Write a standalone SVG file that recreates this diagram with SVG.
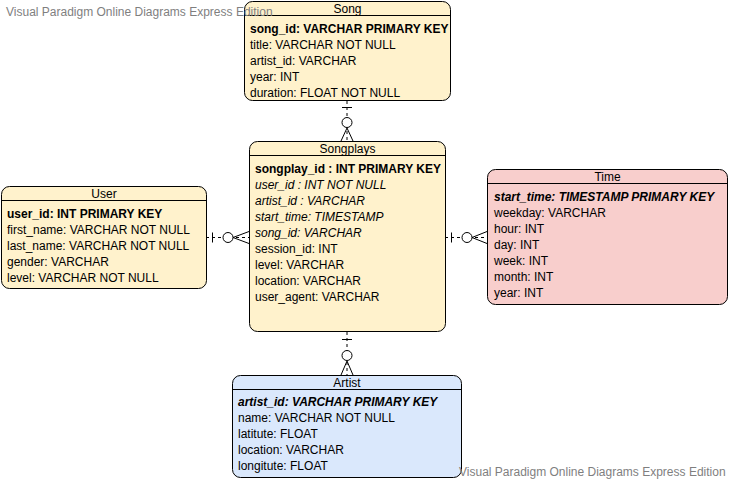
<svg xmlns="http://www.w3.org/2000/svg" width="731" height="482" viewBox="0 0 731 482">
<defs>
<style>
text{font-family:"Liberation Sans",Arial,sans-serif;font-size:12px;fill:#000}
.box{stroke:#000;stroke-width:1}
.y{fill:#fff2cc}.r{fill:#f8cecc}.b{fill:#dae8fc}
.hl{stroke:#000;stroke-width:1}
.t{text-anchor:middle}
.pk{font-weight:bold}
.it{font-style:italic}
.wm{fill:#7f7f7f}
.cl{stroke:#000;stroke-width:1;fill:none;stroke-dasharray:3 3}
.cs{stroke:#000;stroke-width:1;fill:none}
.cc{stroke:#000;stroke-width:1;fill:#fff}
</style>
</defs>
<rect width="731" height="482" fill="#fff"/>

<g id="connectors">
<!-- Song - Songplays -->
<line class="cl" x1="347" y1="101" x2="347" y2="141"/>
<line class="cs" x1="342" y1="107.5" x2="352" y2="107.5"/>
<path class="cs" d="M347 128 L341 141 M347 128 L353 141"/>
<circle class="cc" cx="347" cy="122.5" r="5"/>
<!-- User - Songplays -->
<line class="cl" x1="206" y1="237.5" x2="249" y2="237.5"/>
<line class="cs" x1="212.5" y1="232.5" x2="212.5" y2="242.5"/>
<path class="cs" d="M233 237.5 L249 231.5 M233 237.5 L249 243.5"/>
<circle class="cc" cx="228" cy="237.5" r="5"/>
<!-- Time - Songplays -->
<line class="cl" x1="445" y1="237.5" x2="487" y2="237.5"/>
<line class="cs" x1="451.5" y1="232.5" x2="451.5" y2="242.5"/>
<path class="cs" d="M472 237.5 L487 231.5 M472 237.5 L487 243.5"/>
<circle class="cc" cx="467" cy="237.5" r="5"/>
<!-- Artist - Songplays -->
<line class="cl" x1="347" y1="332" x2="347" y2="375"/>
<line class="cs" x1="342" y1="339.5" x2="352" y2="339.5"/>
<path class="cs" d="M347 361 L341 375 M347 361 L353 375"/>
<circle class="cc" cx="347" cy="355.5" r="5"/>
</g>

<g id="song">
<rect class="box y" x="244.5" y="1.5" width="206" height="99" rx="8"/>
<line class="hl" x1="244.5" y1="15.5" x2="450.5" y2="15.5"/>
<text class="t" x="347.5" y="12.5">Song</text>
<text class="pk" x="250" y="32.5">song_id: VARCHAR PRIMARY KEY</text>
<text x="250" y="48.5">title: VARCHAR NOT NULL</text>
<text x="250" y="64.5">artist_id: VARCHAR</text>
<text x="250" y="80.5">year: INT</text>
<text x="250" y="96.5">duration: FLOAT NOT NULL</text>
</g>

<g id="songplays">
<rect class="box y" x="249.5" y="141.5" width="196" height="190" rx="8"/>
<line class="hl" x1="249.5" y1="155.5" x2="445.5" y2="155.5"/>
<text class="t" x="347.5" y="152.5">Songplays</text>
<text class="pk" x="255" y="172.5">songplay_id : INT PRIMARY KEY</text>
<text class="it" x="255" y="188.5">user_id : INT NOT NULL</text>
<text class="it" x="255" y="204.5">artist_id : VARCHAR</text>
<text class="it" x="255" y="220.5">start_time: TIMESTAMP</text>
<text class="it" x="255" y="236.5">song_id: VARCHAR</text>
<text x="255" y="252.5">session_id: INT</text>
<text x="255" y="268.5">level: VARCHAR</text>
<text x="255" y="284.5">location: VARCHAR</text>
<text x="255" y="300.5">user_agent: VARCHAR</text>
</g>

<g id="user">
<rect class="box y" x="1.5" y="186.5" width="205" height="102" rx="8"/>
<line class="hl" x1="1.5" y1="200.5" x2="206.5" y2="200.5"/>
<text class="t" x="104" y="197.5">User</text>
<text class="pk" x="7" y="217.5">user_id: INT PRIMARY KEY</text>
<text x="7" y="233.5">first_name: VARCHAR NOT NULL</text>
<text x="7" y="249.5">last_name: VARCHAR NOT NULL</text>
<text x="7" y="265.5">gender: VARCHAR</text>
<text x="7" y="281.5">level: VARCHAR NOT NULL</text>
</g>

<g id="time">
<rect class="box r" x="487.5" y="169.5" width="240" height="135" rx="8"/>
<line class="hl" x1="487.5" y1="183.5" x2="727.5" y2="183.5"/>
<text class="t" x="607.5" y="181">Time</text>
<text class="pk it" x="494" y="200.5">start_time: TIMESTAMP PRIMARY KEY</text>
<text x="494" y="216.5">weekday: VARCHAR</text>
<text x="494" y="232.5">hour: INT</text>
<text x="494" y="248.5">day: INT</text>
<text x="494" y="264.5">week: INT</text>
<text x="494" y="280.5">month: INT</text>
<text x="494" y="296.5">year: INT</text>
</g>

<g id="artist">
<rect class="box b" x="232.5" y="375.5" width="229" height="102" rx="8"/>
<line class="hl" x1="232.5" y1="389.5" x2="461.5" y2="389.5"/>
<text class="t" x="347" y="386.5">Artist</text>
<text class="pk it" x="238" y="406">artist_id: VARCHAR PRIMARY KEY</text>
<text x="238" y="422">name: VARCHAR NOT NULL</text>
<text x="238" y="438">latitute: FLOAT</text>
<text x="238" y="454">location: VARCHAR</text>
<text x="238" y="470">longitute: FLOAT</text>
</g>

<g id="watermarks">
<text class="wm" x="6" y="16">Visual Paradigm Online Diagrams Express Edition</text>
<text class="wm" x="459" y="476">Visual Paradigm Online Diagrams Express Edition</text>
</g>
</svg>
